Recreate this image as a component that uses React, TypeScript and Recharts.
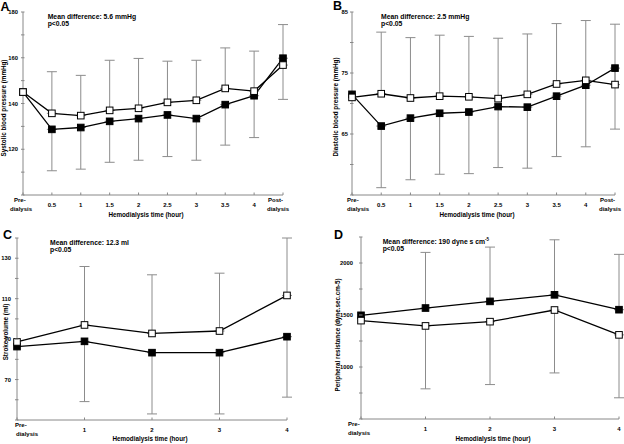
import { ErrorBar, Line, LineChart, XAxis, YAxis } from "recharts";

const FONT = "'Liberation Sans', Arial, Helvetica, sans-serif";
const AXIS = "#888888";
const BAR = "#8c8c8c";

// categories
const hoursLong = ["Pre-dialysis", "0.5", "1", "1.5", "2", "2.5", "3", "3.5", "4", "Post-dialysis"];
const hoursShort = ["Pre-dialysis", "1", "2", "3", "4"];

// A: systolic blood pressure (mmHg)
const sbpFilled = [145, 128.7, 129.5, 132.2, 133.4, 135, 133.4, 139.5, 143.4, 159.8];
const sbpOpen = [145, 135.7, 134.7, 137, 137.9, 140.5, 141.4, 146.6, 145.4, 156.8];
const sbpFilledSd = [null, 18.1, 18.2, 17.9, 18.2, 18.2, 18.2, 17.7, 18.3, 18];
const sbpOpenSd = [null, 18.2, 17.6, 21.9, 21.8, 18, 17.5, 17.7, 17.5, 17.7];

// B: diastolic blood pressure (mmHg)
const dbpFilled = [71.5, 66.3, 67.6, 68.4, 68.6, 69.5, 69.4, 71.2, 73.0, 75.8];
const dbpOpen = [71.0, 71.6, 70.9, 71.2, 71.1, 70.8, 71.5, 73.2, 73.8, 73.1];
const dbpFilledSd = [null, 10.1, 10.1, 10, 10.1, 10, 10, 9.9, 10.1, 10];
const dbpOpenSd = [null, 10.1, 9.9, 10, 9.9, 9.9, 9.9, 9.9, 9.8, 9.9];

// C: stroke volume (ml)
const svFilled = [86.3, 88.9, 83.3, 83.3, 91.2];
const svOpen = [88.6, 97, 92.8, 94, 111.6];
const svFilledSd = [null, 29.8, 30.3, 30.3, 29.9];
const svOpenSd = [null, 28.9, 29, 28.6, 28.4];

// D: peripheral resistance (dyne.sec.cm-5)
const prFilled = [1497, 1567, 1631, 1694, 1551];
const prOpen = [1446, 1395, 1436, 1548, 1309];
const prFilledSd = [null, 535, 522, 529, 532];
const prOpenSd = [null, 605, 605, 605, 605];

// axis ticks
const sbpTicks = [100, 110, 120, 130, 140, 150, 160, 170, 180];
const sbpLabels = [120, 140, 160, 180];
const dbpTicks = [55, 60, 65, 70, 75, 80, 85];
const dbpLabels = [65, 75, 85];
const svTicks = [50, 60, 70, 80, 90, 100, 110, 120, 130, 140];
const svLabels = [70, 90, 110, 130];
const prTicks = [500, 750, 1000, 1250, 1500, 1750, 2000, 2250];
const prLabels = [1000, 1500, 2000];

function buildRows(
  cats: string[],
  filled: number[],
  open: number[],
  filledSd: (number | null)[],
  openSd: (number | null)[],
  filledUp: boolean
) {
  return cats.map((time, i) => ({
    time,
    filled: filled[i],
    open: open[i],
    filledErr: filledSd[i] == null ? null : filledUp ? [0, filledSd[i]] : [filledSd[i], 0],
    openErr: openSd[i] == null ? null : filledUp ? [openSd[i], 0] : [0, openSd[i]],
  }));
}

const squareDot = (fill: string) => (props: any) => {
  const { cx, cy, index } = props;
  if (cx == null || cy == null) return <g key={index} />;
  return (
    <rect key={index} x={cx - 3.3} y={cy - 3.3} width={6.6} height={6.6} fill={fill} stroke="#000" strokeWidth={1} />
  );
};

type PanelProps = {
  left: number;
  top: number;
  rows: any[];
  domain: [number, number];
  ticks: number[];
  labels: number[];
  marginTop: number;
  marginRight: number;
  yWidth: number;
  xHeight: number;
  yGap: number;
  preOffsets: [number, number];
};

function Panel(p: PanelProps) {
  const yTick = (props: any) => {
    const { x, y, payload } = props;
    return (
      <g>
        <line x1={x - 2} x2={x + 1.5} y1={y} y2={y} stroke={AXIS} strokeWidth={1} />
        {p.labels.includes(payload.value) && (
          <text x={x - p.yGap} y={y} dy="0.35em" textAnchor="end" fontFamily={FONT} fontWeight="bold" fontSize={5.8} fill="#000">
            {payload.value}
          </text>
        )}
      </g>
    );
  };

  const xTick = (props: any) => {
    const { x, y, payload } = props;
    const v: string = payload.value;
    const style = { fontFamily: FONT, fontWeight: "bold" as const, fontSize: 6, fill: "#000" };
    let label;
    if (v.includes("-")) {
      const [first, second] = v.split("-");
      const offs = first === "Pre" ? p.preOffsets : [-15, -16];
      label = (
        <>
          <text x={x + offs[0]} y={y + 7} textAnchor="start" {...style}>{first + "-"}</text>
          <text x={x + offs[1]} y={y + 16} textAnchor="start" {...style}>{second}</text>
        </>
      );
    } else {
      label = (
        <text x={x} y={y + 11.5} textAnchor="middle" {...style}>{v}</text>
      );
    }
    return (
      <g>
        <line x1={x} x2={x} y1={y - 2.5} y2={y} stroke={AXIS} strokeWidth={1} />
        {label}
      </g>
    );
  };

  return (
    <div style={{ position: "absolute", left: p.left, top: p.top }}>
      <LineChart
        width={312}
        height={222}
        data={p.rows}
        margin={{ top: p.marginTop, right: p.marginRight, left: 0, bottom: 0 }}
      >
        <XAxis
          dataKey="time"
          height={p.xHeight}
          interval={0}
          tickSize={0}
          tickMargin={0}
          tickLine={false}
          axisLine={{ stroke: AXIS, strokeWidth: 1 }}
          tick={xTick}
        />
        <YAxis
          width={p.yWidth}
          type="number"
          domain={p.domain}
          ticks={p.ticks}
          interval={0}
          tickSize={0}
          tickMargin={0}
          tickLine={false}
          axisLine={{ stroke: AXIS, strokeWidth: 1 }}
          tick={yTick}
        />
        <Line
          dataKey="filled"
          stroke="#000"
          strokeWidth={1.3}
          dot={squareDot("#000")}
          activeDot={false}
          isAnimationActive={false}
        >
          <ErrorBar dataKey="filledErr" width={5} stroke={BAR} strokeWidth={1} isAnimationActive={false} />
        </Line>
        <Line
          dataKey="open"
          stroke="#000"
          strokeWidth={1.3}
          dot={squareDot("#fff")}
          activeDot={false}
          isAnimationActive={false}
        >
          <ErrorBar dataKey="openErr" width={5} stroke={BAR} strokeWidth={1} isAnimationActive={false} />
        </Line>
      </LineChart>
    </div>
  );
}

function Texts() {
  const t = { fontFamily: FONT, fontWeight: "bold" as const, fill: "#000" };
  return (
    <svg
      width={624}
      height={444}
      style={{ position: "absolute", left: 0, top: 0, pointerEvents: "none" }}
    >
      <text x={0.5} y={10.5} fontSize={12.5} {...t}>A</text>
      <text x={333} y={10} fontSize={12.5} {...t}>B</text>
      <text x={3} y={239} fontSize={12.5} {...t}>C</text>
      <text x={334} y={239} fontSize={12.5} {...t}>D</text>

      <text x={47.7} y={18.7} fontSize={6.8} {...t}>Mean difference: 5.6 mmHg</text>
      <text x={47.7} y={26} fontSize={6.8} {...t}>p&lt;0.05</text>
      <text x={381} y={19} fontSize={6.8} {...t}>Mean difference: 2.5 mmHg</text>
      <text x={381} y={26.3} fontSize={6.8} {...t}>p&lt;0.05</text>
      <text x={50} y={244.5} fontSize={6.8} {...t}>Mean difference: 12.3 ml</text>
      <text x={50} y={251.8} fontSize={6.8} {...t}>p&lt;0.05</text>
      <text x={382.7} y={243.5} fontSize={6.8} {...t}>
        Mean difference: 190 dyne s  cm
        <tspan fontSize={4.5} dy={-2.5}>-5</tspan>
      </text>
      <text x={382.7} y={251} fontSize={6.8} {...t}>p&lt;0.05</text>

      <text x={146} y={217} fontSize={6.3} textAnchor="middle" {...t}>Hemodialysis time (hour)</text>
      <text x={477} y={217} fontSize={6.3} textAnchor="middle" {...t}>Hemodialysis time (hour)</text>
      <text x={150} y={441} fontSize={6.3} textAnchor="middle" {...t}>Hemodialysis time (hour)</text>
      <text x={493} y={441} fontSize={6.3} textAnchor="middle" {...t}>Hemodialysis time (hour)</text>

      <text transform="translate(6,108) rotate(-90)" fontSize={6.3} textAnchor="middle" {...t}>Systolic blood pressure (mmHg)</text>
      <text transform="translate(337.7,107) rotate(-90)" fontSize={6.3} textAnchor="middle" {...t}>Diastolic blood pressure (mmHg)</text>
      <text transform="translate(7.5,332) rotate(-90)" fontSize={6.3} textAnchor="middle" {...t}>Stroke volume (ml)</text>
      <text transform="translate(339.5,335) rotate(-90)" fontSize={6.3} textAnchor="middle" {...t}>Peripheral resistance (dyne.sec.cm-5)</text>
    </svg>
  );
}

export default function App() {
  return (
    <div style={{ position: "absolute", left: 0, top: 0, width: 624, height: 444, background: "#fff" }}>
      <Panel
        left={0}
        top={0}
        rows={buildRows(hoursLong, sbpFilled, sbpOpen, sbpFilledSd, sbpOpenSd, false)}
        domain={[100, 180]}
        ticks={sbpTicks}
        labels={sbpLabels}
        marginTop={12}
        marginRight={29}
        yWidth={23}
        xHeight={27}
        yGap={5}
        preOffsets={[-9, -13]}
      />
      <Panel
        left={312}
        top={0}
        rows={buildRows(hoursLong, dbpFilled, dbpOpen, dbpFilledSd, dbpOpenSd, false)}
        domain={[55, 85]}
        ticks={dbpTicks}
        labels={dbpLabels}
        marginTop={12}
        marginRight={9}
        yWidth={40}
        xHeight={27}
        yGap={4}
        preOffsets={[-5, -5]}
      />
      <Panel
        left={0}
        top={222}
        rows={buildRows(hoursShort, svFilled, svOpen, svFilledSd, svOpenSd, false)}
        domain={[50, 140]}
        ticks={svTicks}
        labels={svLabels}
        marginTop={16}
        marginRight={25}
        yWidth={17}
        xHeight={24}
        yGap={6}
        preOffsets={[-2, -1]}
      />
      <Panel
        left={312}
        top={222}
        rows={buildRows(hoursShort, prFilled, prOpen, prFilledSd, prOpenSd, true)}
        domain={[500, 2250]}
        ticks={prTicks}
        labels={prLabels}
        marginTop={15}
        marginRight={5}
        yWidth={49}
        xHeight={25}
        yGap={8}
        preOffsets={[-13, -13]}
      />
      <Texts />
    </div>
  );
}
